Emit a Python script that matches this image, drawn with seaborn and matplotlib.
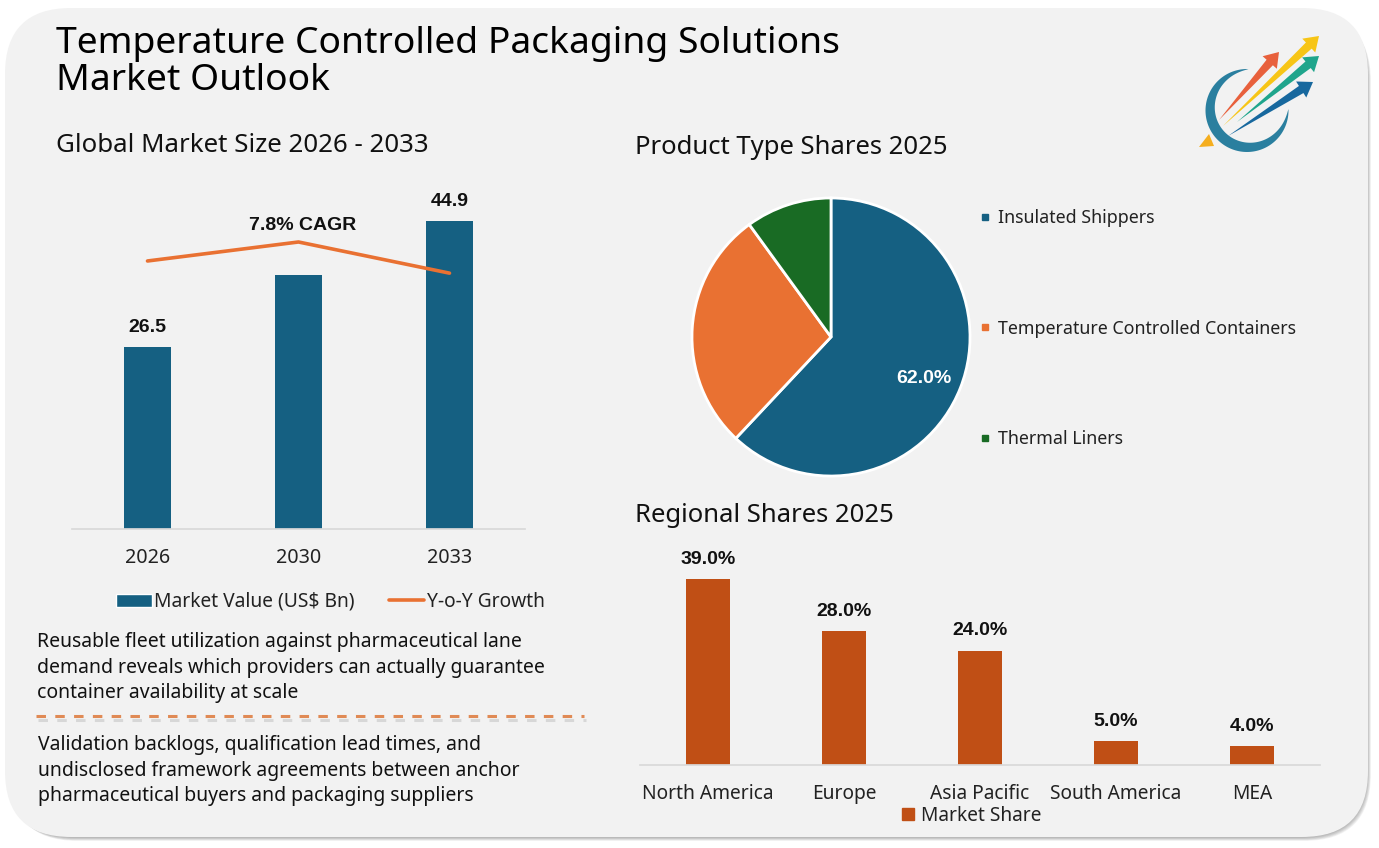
import numpy as np
import pandas as pd
import seaborn as sns
import matplotlib
matplotlib.use("Agg")
import matplotlib.pyplot as plt
from matplotlib.patches import FancyBboxPatch, Polygon
from matplotlib.lines import Line2D

years = ["2026", "2030", "2033"]
market_value = [26.5, 37.0, 44.9]
market_labels = ["26.5", "", "44.9"]
yoy_growth = [7.5, 8.0, 7.18]
product_types = ["Insulated Shippers", "Temperature Controlled Containers", "Thermal Liners"]
product_shares = [62.0, 28.0, 10.0]
regions = ["North America", "Europe", "Asia Pacific", "South America", "MEA"]
region_shares = [39.0, 28.0, 24.0, 5.0, 4.0]

BLUE, ORANGE, GREEN, RUST = "#156082", "#E97132", "#196B24", "#C04F15"
BOLD = ["Liberation Sans", "DejaVu Sans"]
W, H = 1379, 848
sns.set_theme(style="white")
plt.rcParams["font.family"] = ["Noto Sans", "DejaVu Sans"]
fig = plt.figure(figsize=(W / 100, H / 100), dpi=100, facecolor="white")

def px_axes(x0, y0, x1, y1, **kw):
    return fig.add_axes([x0 / W, 1 - y1 / H, (x1 - x0) / W, (y1 - y0) / H], **kw)

bg = px_axes(0, 0, W, H)
bg.set_xlim(0, W); bg.set_ylim(H, 0); bg.axis("off")
for i in range(8, 0, -1):
    bg.add_patch(FancyBboxPatch((6 + i * .6, 10 + i * .6), 1360, 826, boxstyle="round,pad=0,rounding_size=66",
                                fc="#444444", ec="none", alpha=.07))
bg.add_patch(FancyBboxPatch((5, 8), 1363, 829, boxstyle="round,pad=0,rounding_size=66", fc="#F2F2F2", ec="none"))

def txt(x, y, s, size, **kw):
    kw.setdefault("color", "#111111"); kw.setdefault("va", "center")
    bg.text(x, y, s, fontsize=size, **kw)

txt(56, 44, "Temperature Controlled Packaging Solutions", 26.85, color="#000000")
txt(56, 81, "Market Outlook", 26.85, color="#000000")
txt(56, 145, "Global Market Size 2026 - 2033", 18.6)
txt(635, 147, "Product Type Shares 2025", 18.5)
txt(635, 516, "Regional Shares 2025", 18.5)
for y, s in zip([642, 668, 693], ["Reusable fleet utilization against pharmaceutical lane",
                                  "demand reveals which providers can actually guarantee",
                                  "container availability at scale"]):
    txt(37, y, s, 13.95)
for y, s in zip([745, 771, 796], ["Validation backlogs, qualification lead times, and",
                                  "undisclosed framework agreements between anchor",
                                  "pharmaceutical buyers and packaging suppliers"]):
    txt(38, y, s, 13.95)
bg.plot([38, 586], [720, 720], color="#777777", alpha=.22, lw=2.2, dashes=(3.1, 3.05), dash_capstyle="butt")
bg.plot([36, 584], [716, 716], color="#E08A55", lw=2.2, dashes=(3.1, 3.05), dash_capstyle="butt")

# logo
t = np.radians(np.linspace(88, 362, 120))
thick = 10.5 * np.sin((t - t[0]) / (t[-1] - t[0]) * np.pi) ** .8
cx, cy, r = 1247, 110.5, 41.5
outer = np.c_[cx + r * np.cos(t), cy - r * np.sin(t)]
inner = np.c_[cx + (r - thick) * np.cos(t), cy - (r - thick) * np.sin(t)]
bg.add_patch(Polygon(np.r_[outer, inner[::-1]], fc="#2A7F9F", ec="none"))
bg.add_patch(Polygon([(1199, 147), (1209, 134), (1214, 146)], fc="#F5AE1E", ec="none"))
def arrow(tail, tip, color, hw=9.5, sw=4.2, hl=14):
    a, b = np.array(tail, float), np.array(tip, float)
    d = (b - a) / np.linalg.norm(b - a); n = np.array([-d[1], d[0]]); s = b - d * hl
    bg.add_patch(Polygon([a, s + n * sw, s + n * hw, b, s - n * hw, s - n * sw], fc=color, ec="none"))
arrow((1219, 120), (1279, 52), "#E8603C")
arrow((1223, 126), (1319, 36), "#F7C516")
arrow((1237, 122), (1319, 56), "#1FA58C")
arrow((1228, 136), (1313, 82), "#17689E")

# market size
ax = px_axes(72, 200, 525, 529, facecolor="none")
sns.barplot(x=years, y=market_value, color=BLUE, saturation=1, width=.31, linewidth=0, ax=ax)
ax.set_xlim(-.5, 2.5); ax.set_ylim(0, 329 / 6.86)
ax.bar_label(ax.containers[0], labels=market_labels, fontsize=14, fontweight="bold", family=BOLD, padding=8, color="#111111")
ax.set_yticks([]); ax.set_xlabel(""); ax.set_ylabel("")
ax.tick_params(axis="x", length=0, labelsize=14.2, pad=14, labelcolor="#222222")
sns.despine(ax=ax, left=True)
ax.spines["bottom"].set_color("#D9D9D9")
ax2 = ax.twinx()
ax2.patch.set_visible(False)
sns.lineplot(x=np.arange(len(years)), y=yoy_growth, color=ORANGE, lw=2.6, ax=ax2, errorbar=None)
ax2.set_ylim(.447, .447 + 329 / 38)
ax2.set_yticks([]); ax2.set_ylabel("")
sns.despine(ax=ax2, left=True, right=True, bottom=True)
txt(303, 226, "7.8% CAGR", 14, fontweight="bold", family=BOLD, ha="center")
fig.legend(handles=[plt.Rectangle((0, 0), 1, 1, fc=BLUE), Line2D([], [], color=ORANGE, lw=2.6)],
           labels=["Market Value (US$ Bn)", "Y-o-Y Growth"], ncol=2, frameon=False, fontsize=13.85,
           loc="center", bbox_to_anchor=(330.5 / W, 1 - 602 / H),
           handlelength=1.85, handletextpad=.15, columnspacing=1.75, labelcolor="#222222")

# pie
pie_ax = px_axes(691, 197, 971, 477)
wedges, _, autos = pie_ax.pie(product_shares, colors=[BLUE, ORANGE, GREEN], startangle=90, counterclock=False,
                              radius=1, autopct=lambda p: f"{p:.1f}%" if p > 50 else "", pctdistance=.72,
                              wedgeprops=dict(edgecolor="white", linewidth=2))
pie_ax.set_xlim(-1.007, 1.007); pie_ax.set_ylim(-1.007, 1.007)
for a in autos:
    a.set(color="white", fontweight="bold", fontsize=14, family=BOLD)
    a.set_y(a.get_position()[1] - .036)
leg = [Line2D([], [], marker="s", ls="", ms=5, color=c) for c in [BLUE, ORANGE, GREEN]]
fig.legend(handles=leg, labels=product_types, frameon=False, fontsize=12.8, loc="upper left",
           bbox_to_anchor=(964 / W, 1 - 200 / H), labelspacing=5.22,
           handletextpad=0, handlelength=1.4, labelcolor="#222222", borderpad=0)

# regions
rx = px_axes(640, 540, 1320, 765, facecolor="none")
sns.barplot(x=regions, y=region_shares, color=RUST, saturation=1, width=.32, linewidth=0, ax=rx)
rx.set_xlim(-.5, 4.5); rx.set_ylim(0, 225 / 4.77)
rx.bar_label(rx.containers[0], labels=[f"{v:.1f}%" for v in region_shares], fontsize=14, fontweight="bold",
             family=BOLD, padding=8, color="#111111")
rx.set_yticks([]); rx.set_xlabel(""); rx.set_ylabel("")
rx.tick_params(axis="x", length=0, labelsize=13.8, pad=14, labelcolor="#222222")
sns.despine(ax=rx, left=True)
rx.spines["bottom"].set_color("#D9D9D9")
fig.legend(handles=[Line2D([], [], marker="s", ls="", ms=8.5, color=RUST)], labels=["Market Share"], frameon=False,
           fontsize=13.75, loc="center", bbox_to_anchor=(965 / W, 1 - 816 / H), handletextpad=-.3, labelcolor="#222222")

fig.savefig("out.png", dpi=100, facecolor="white")
